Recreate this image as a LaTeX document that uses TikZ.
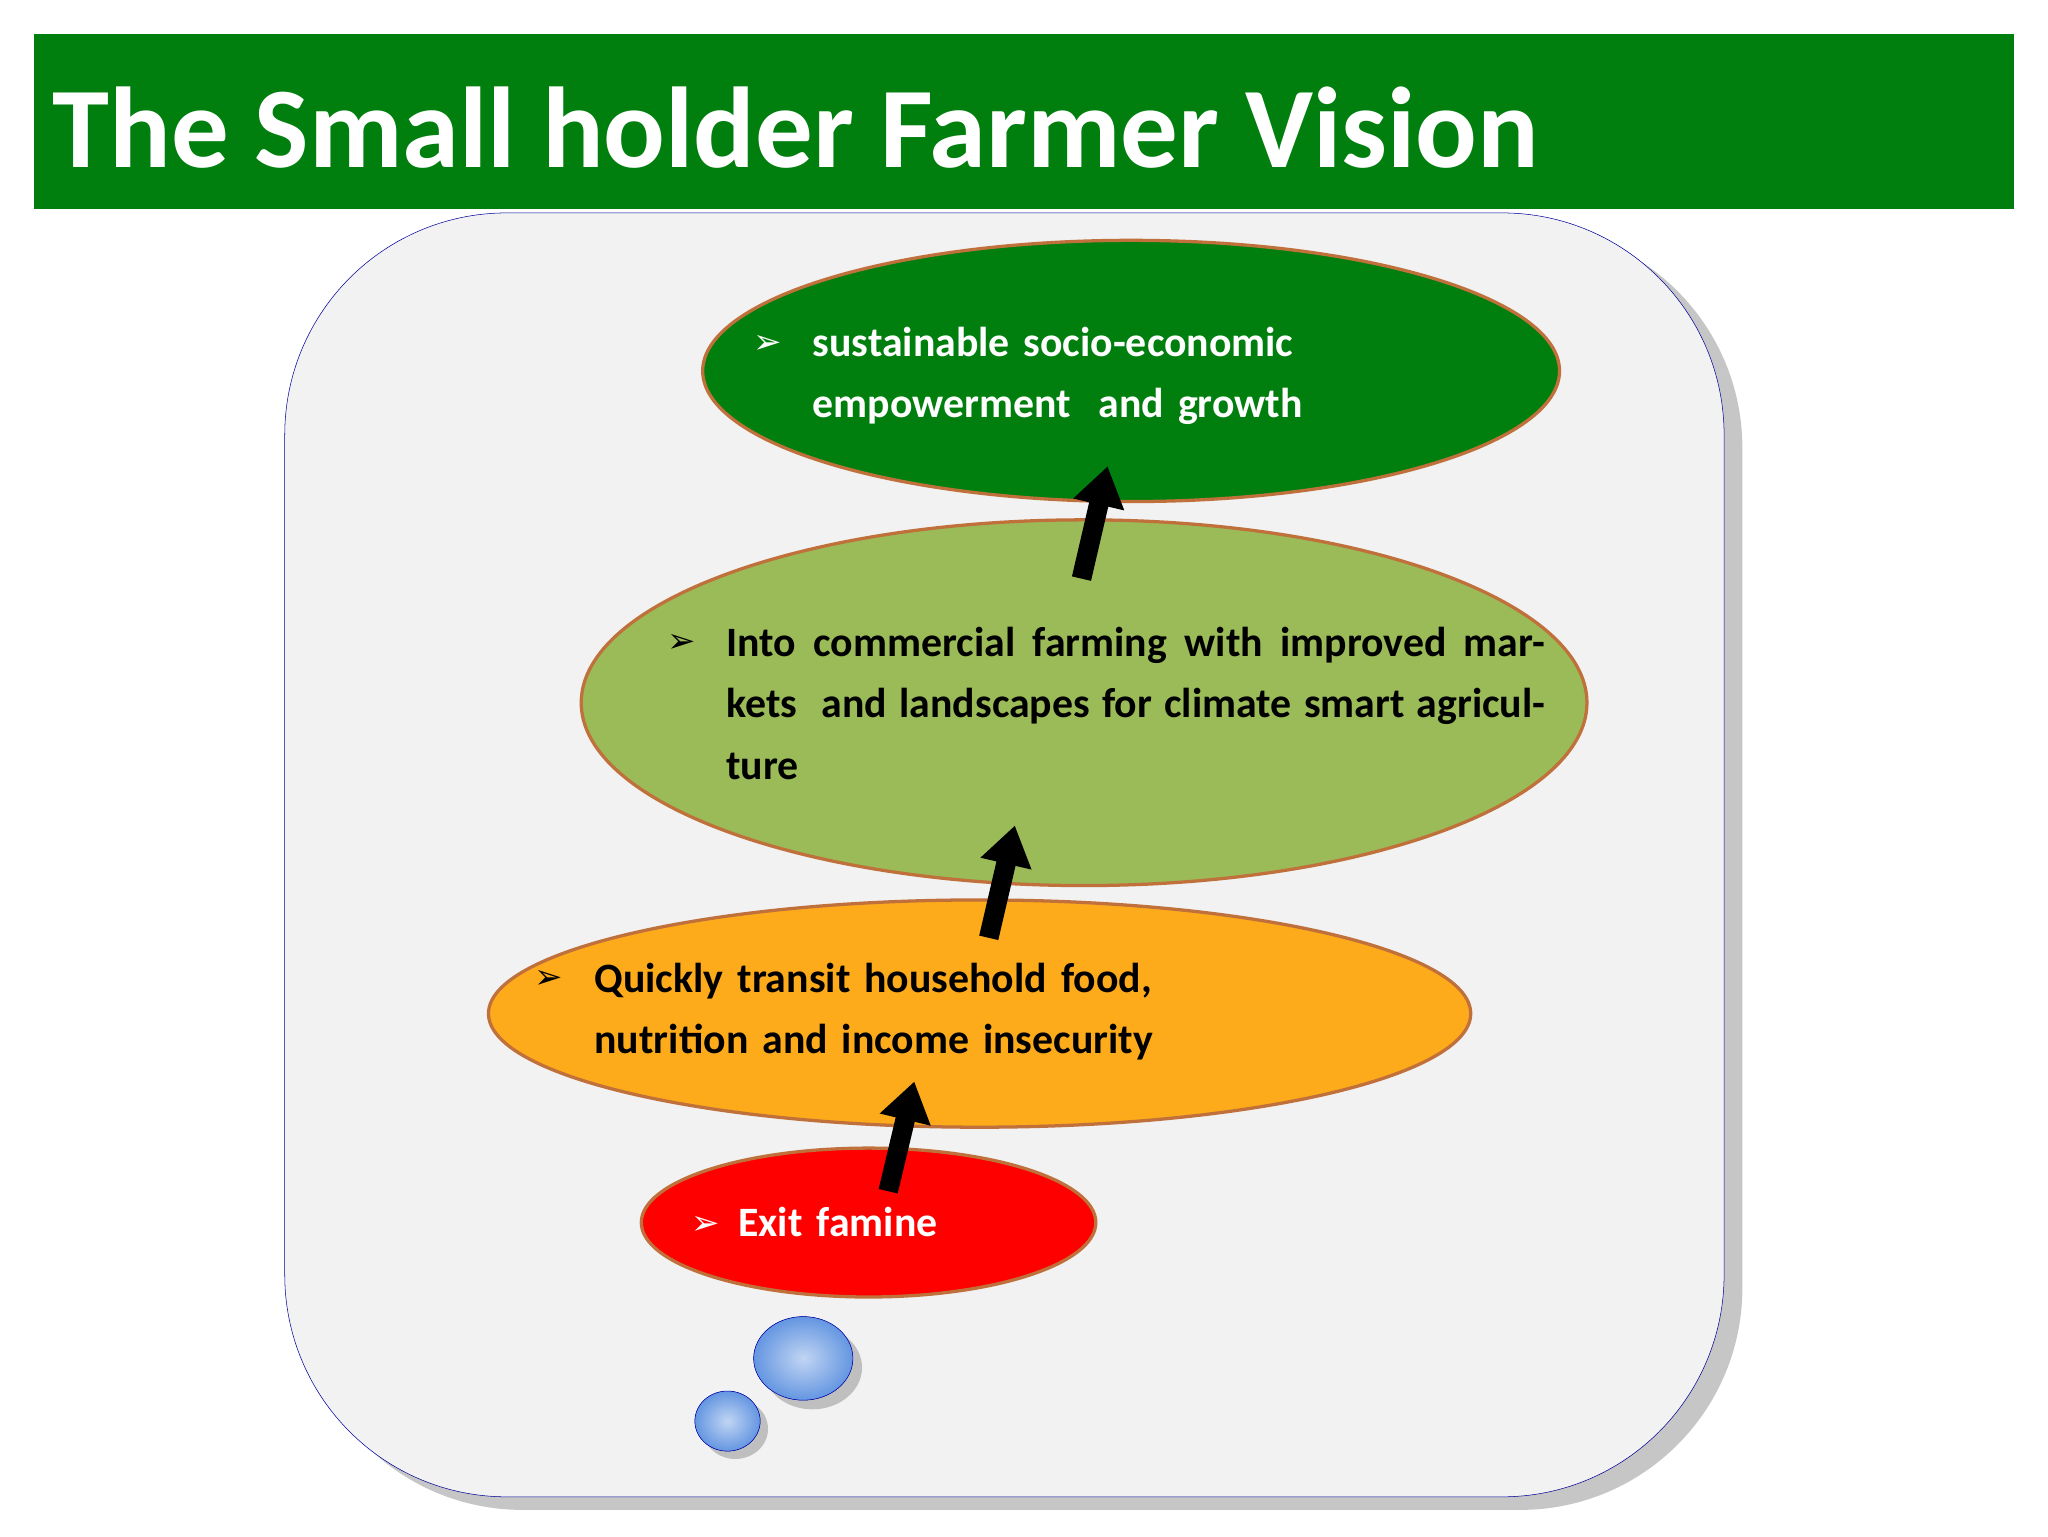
\documentclass[tikz,border=0pt]{standalone}
\usepackage{fontspec}
\setmainfont{Carlito}
\newfontfamily\sym{DejaVu Sans}
\usetikzlibrary{arrows.meta}
\definecolor{tgreen}{RGB}{0,127,14}
\definecolor{lgreen}{RGB}{155,187,89}
\definecolor{orng}{RGB}{253,170,27}
\definecolor{rim}{RGB}{192,112,58}
\definecolor{bub}{RGB}{100,150,225}
\tikzset{
 ell/.style={draw=rim,line width=2.5pt},
 txt/.style={inner sep=0pt,anchor=north west,font=\bfseries\fontsize{32}{47}\selectfont,align=justify},
 bul/.style={inner sep=0pt,font=\sym\fontsize{26}{26}\selectfont},
 up/.style={line width=15pt,-{Triangle[width=38pt,length=30pt]},black}
}
\begin{document}
\begin{tikzpicture}[x=1pt,y=-1pt]
\useasboundingbox (0,0) rectangle (1568,1176);
\fill[white] (0,0) rectangle (1568,1176);
\fill[tgreen] (26,26) rectangle (1542,160);
\node[anchor=base west,inner sep=0pt,text=white,font=\bfseries\fontsize{88}{88}\selectfont] (title) at (40,128) {The Small holder Farmer Vision};
\fill[gray!45,rounded corners=170pt] (230,173) rectangle (1334,1156);
\filldraw[fill=gray!10,draw=blue!60!black,rounded corners=170pt] (218,163) rectangle (1320,1146);
% ellipses
\filldraw[ell,fill=tgreen] (866,284) ellipse [x radius=328,y radius=100];
\filldraw[ell,fill=lgreen] (830,538) ellipse [x radius=385,y radius=140];
\filldraw[ell,fill=orng] (750,776) ellipse [x radius=376,y radius=87];
\filldraw[ell,fill=red] (665,936) ellipse [x radius=174,y radius=57];
% bubbles
\fill[gray!50] (622,1047) ellipse [x radius=38,y radius=32];
\filldraw[draw=blue!70!black,inner color=bub!40,outer color=bub] (615,1040) ellipse [x radius=38,y radius=32];
\fill[gray!50] (563,1094) ellipse [x radius=25,y radius=23];
\filldraw[draw=blue!70!black,inner color=bub!40,outer color=bub] (557,1088) ellipse [x radius=25,y radius=23];
% texts
\node[bul,text=white] (b1) at (588,264) {➢};
\node[txt,text=white,text width=460pt,align=left] (t1) at (622,250) {sustainable socio-economic\\empowerment\ \ and growth};
\node[bul] (b2) at (522,493) {➢};
\node[txt,text width=627pt] (t2) at (556,480) {Into commercial farming with improved markets\ \ and landscapes for climate smart agriculture};
\node[bul] (b3) at (420,750) {➢};
\node[txt,text width=560pt,align=left] (t3) at (455,737) {Quickly transit household food,\\nutrition and income insecurity};
\node[bul,text=white] (b4) at (540,938) {➢};
\node[txt,text=white,text width=250pt,align=left] (t4) at (565,924) {Exit famine};
% arrows
\coordinate (a1s) at (680,912); \coordinate (a1e) at (700,828);
\coordinate (a2s) at (757,718); \coordinate (a2e) at (777,632);
\coordinate (a3s) at (828,443); \coordinate (a3e) at (848,357);
\draw[up] (a1s) -- (a1e);
\draw[up] (a2s) -- (a2e);
\draw[up] (a3s) -- (a3e);
\end{tikzpicture}
\end{document}
